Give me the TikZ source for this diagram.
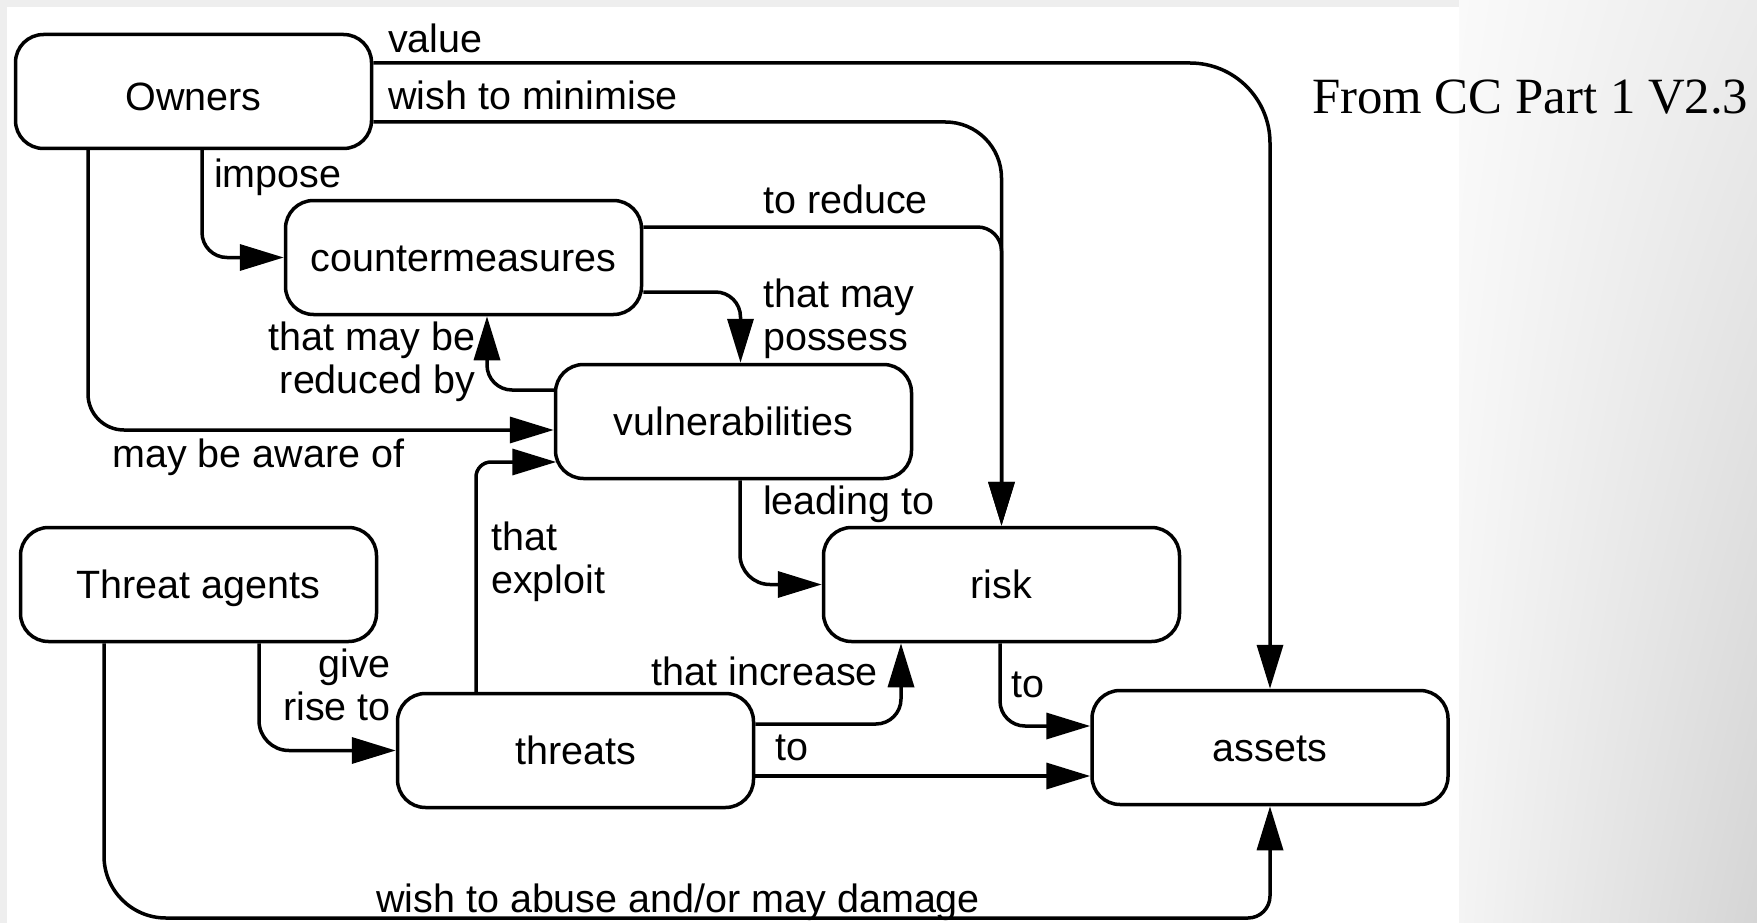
\documentclass[tikz,border=0pt]{standalone}
\usepackage{fontspec}
\setmainfont{Liberation Sans}
\newfontfamily\notefont{Liberation Serif}
\usetikzlibrary{arrows.meta,shadings}
\newcommand\boxfont{\fontsize{39.5}{43}\selectfont}
\definecolor{slidebg}{HTML}{EEEEEE}
\definecolor{slideUL}{HTML}{FAFAFA}
\definecolor{slideUR}{HTML}{EBEBEB}
\definecolor{slideLL}{HTML}{F4F4F4}
\definecolor{slideLR}{HTML}{D5D5D5}

\begin{document}
\begin{tikzpicture}[x=1pt,y=-1pt,
  box/.style={draw, line width=3.5pt, rounded corners=28pt,
    minimum width=356pt, minimum height=114pt, inner sep=0pt,
    text height=28pt, text depth=0pt, font=\boxfont},
  conn/.style={line width=3.5pt, -{Triangle[length=44pt,width=26pt]}},
  lbl/.style={inner sep=0pt, font=\boxfont},
]
\useasboundingbox (0,0) rectangle (1757,923);

% slide background and the white drawing area
\fill[slidebg] (0,0) rectangle (1757,923);
\shade[upper left=slideUL, upper right=slideUR, lower left=slideLL, lower right=slideLR]
  (1459,0) rectangle (1757,923);
\fill[white] (7,7) rectangle (1459,923);

% entities
\node[box, text height=38pt] (owners) at (193.5,91.5) {Owners};
\node[box] (cm)      at (463.5,257.5) {countermeasures};
\node[box] (vul)     at (733.5,421.5) {vulnerabilities};
\node[box] (agents)  at (198.5,584.5) {Threat agents};
\node[box] (risk)    at (1001.5,584.5) {risk};
\node[box] (threats) at (575.5,750.5) {threats};
\node[box] (assets)  at (1270,747.5)  {assets};

% relations
\draw[conn, rounded corners=80pt] ([yshift=28.5pt]owners.east) -| (assets.north);
\draw[conn, rounded corners=56pt] ([yshift=-30.5pt]owners.east) -| (risk.north);
\draw[conn, rounded corners=24pt] ([yshift=30.5pt]cm.east) -| (risk.north);
\draw[conn, rounded corners=25pt] ([xshift=8.5pt]owners.south) |- (cm.west);
\draw[conn, rounded corners=36pt] ([xshift=-105.5pt]owners.south) |- ([yshift=-8.5pt]vul.west);
\draw[conn, rounded corners=15pt] ([xshift=-99.5pt]threats.north) |- ([yshift=-40.5pt,xshift=2.5pt]vul.west);
\draw[conn, rounded corners=25pt] ([yshift=-34.5pt]cm.east) -| ([xshift=7pt]vul.north);
\draw[conn, rounded corners=25pt] ([yshift=31.5pt]vul.west) -| ([xshift=23.5pt]cm.south);
\draw[conn, rounded corners=30pt] ([xshift=6.5pt]vul.south) |- (risk.west);
\draw[conn, rounded corners=30pt] ([xshift=60.5pt]agents.south) |- (threats.west);
\draw[conn, rounded corners=25pt] ([yshift=26.5pt]threats.east) -| ([xshift=-100.5pt]risk.south);
\draw[conn] ([yshift=-25.5pt]threats.east) coordinate (tout) -- (tout -| assets.west);
\draw[conn, rounded corners=25pt] ([xshift=-1.5pt]risk.south) |- ([yshift=21.5pt]assets.west);
\coordinate (ground) at (0,918);
\coordinate (agentsfoot) at ([xshift=-94.5pt]agents.south);
\draw[conn] (agentsfoot) [rounded corners=62pt] -- (agentsfoot |- ground)
  [rounded corners=22pt] -- (assets.south |- ground) [sharp corners] -- (assets.south);

% relation labels
\node[lbl, anchor=base west] (lvalue)    at (388,53)  {value};
\node[lbl, anchor=base west] (lminimise) at (388,110) {wish to minimise};
\node[lbl, anchor=base west] (limpose)   at (214,188) {impose};
\node[lbl, anchor=base west] (lreduce)   at (763,213) {to reduce};
\node[lbl, anchor=north west, align=left]  (lpossess)   at (763,278.7) {that may\\possess};
\node[lbl, anchor=north east, align=right] (lreducedby) at (475.5,321.7) {that may be\\reduced by};
\node[lbl, anchor=base west] (laware)    at (112,467) {may be aware of};
\node[lbl, anchor=base west] (lleading)  at (763,514) {leading to};
\node[lbl, anchor=north west, align=left]  (lexploit) at (491,521.7) {that\\exploit};
\node[lbl, anchor=north east, align=right] (lgive)    at (391,648.7) {give\\rise to};
\node[lbl, anchor=base east] (lincrease) at (878,685) {that increase};
\node[lbl, anchor=base west] (ltoassets) at (775,760) {to};
\node[lbl, anchor=base west] (lriskto)   at (1011,697) {to};
\node[lbl, anchor=base west] (labuse)    at (376,912) {wish to abuse and/or may damage};

% source note
\node[anchor=base west, inner sep=0pt, font=\notefont\fontsize{50.8}{60}\selectfont]
  (source) at (1312,113.5) {From CC Part 1 V2.3};
\end{tikzpicture}
\end{document}
